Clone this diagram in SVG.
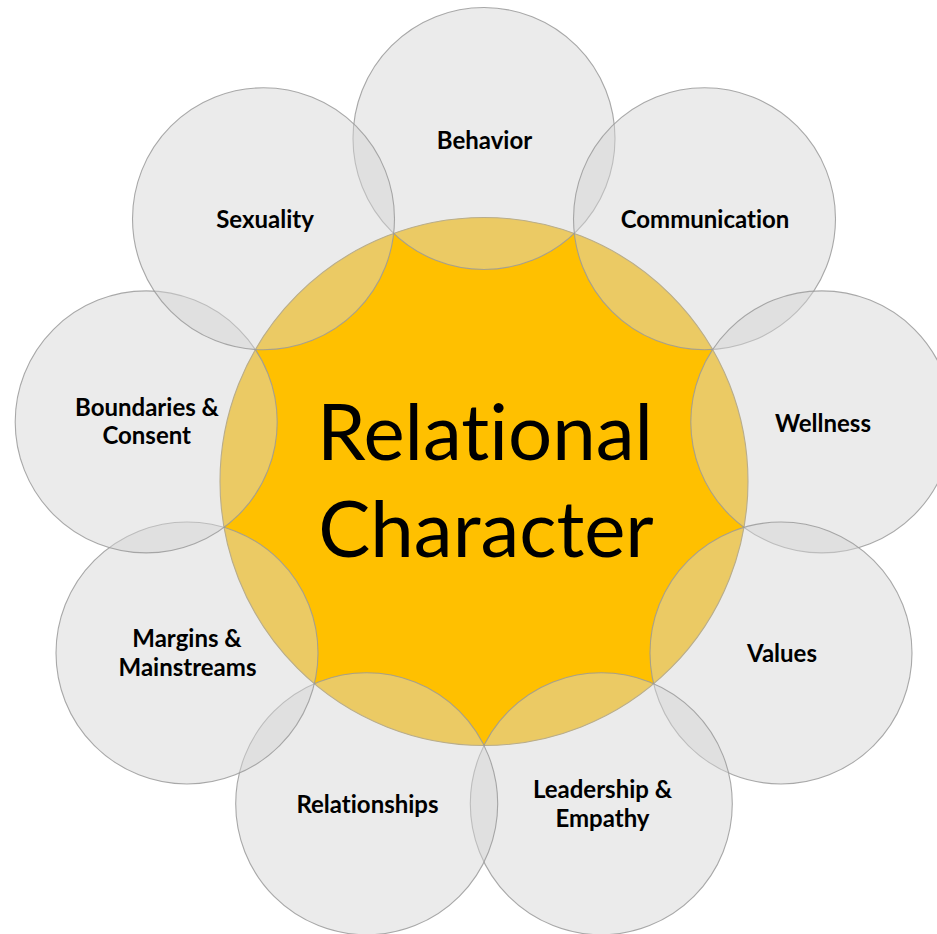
<svg xmlns="http://www.w3.org/2000/svg" width="937" height="934" viewBox="0 0 937 934">
  <style>
    .outer { fill: #D5D5D5; fill-opacity: 0.47; stroke: #9A9A9A; stroke-width: 1.1; stroke-opacity: 0.85; }
    .core { fill: #FFC000; stroke: #A08A4A; stroke-width: 1.1; }
    text { font-variant-ligatures: none; font-feature-settings: "liga" 0, "clig" 0, "dlig" 0; }
    .lbl { font-family: Lato, "Liberation Sans", sans-serif; font-weight: 700; font-size: 24px; fill: #000; text-anchor: middle; }
    .title { font-family: Lato, "Liberation Sans", sans-serif; font-weight: 400; font-size: 78px; fill: #000; text-anchor: middle; }
  </style>
  <rect width="937" height="934" fill="#FFFFFF"/>
  <g id="relational-character">
    <circle class="core" cx="484" cy="481.5" r="264"/>
    <text class="title" x="485" y="460">Relational</text>
    <text class="title" x="486" y="557">Character</text>
  </g>
  <g id="behavior">
    <circle class="outer" cx="484" cy="138.5" r="131"/>
    <text class="lbl" x="484.5" y="148.5">Behavior</text>
  </g>
  <g id="communication">
    <circle class="outer" cx="704.5" cy="218.8" r="131"/>
    <text class="lbl" x="705" y="228.3">Communication</text>
  </g>
  <g id="wellness">
    <circle class="outer" cx="821.8" cy="421.9" r="131"/>
    <text class="lbl" x="823" y="431.7">Wellness</text>
  </g>
  <g id="values">
    <circle class="outer" cx="781" cy="653" r="131"/>
    <text class="lbl" x="782" y="662.3">Values</text>
  </g>
  <g id="leadership-empathy">
    <circle class="outer" cx="601.3" cy="803.8" r="131"/>
    <text class="lbl" x="602.5" y="797.7">Leadership &amp;</text>
    <text class="lbl" x="602.5" y="826.7">Empathy</text>
  </g>
  <g id="relationships">
    <circle class="outer" cx="366.7" cy="803.8" r="131"/>
    <text class="lbl" x="367.5" y="813.3">Relationships</text>
  </g>
  <g id="margins-mainstreams">
    <circle class="outer" cx="187" cy="653" r="131"/>
    <text class="lbl" x="187" y="646.7">Margins &amp;</text>
    <text class="lbl" x="187.5" y="675.7">Mainstreams</text>
  </g>
  <g id="boundaries-consent">
    <circle class="outer" cx="146.2" cy="421.9" r="131"/>
    <text class="lbl" x="147" y="416">Boundaries &amp;</text>
    <text class="lbl" x="146.7" y="444.3">Consent</text>
  </g>
  <g id="sexuality">
    <circle class="outer" cx="263.5" cy="218.8" r="131"/>
    <text class="lbl" x="265" y="227.7">Sexuality</text>
  </g>
</svg>
